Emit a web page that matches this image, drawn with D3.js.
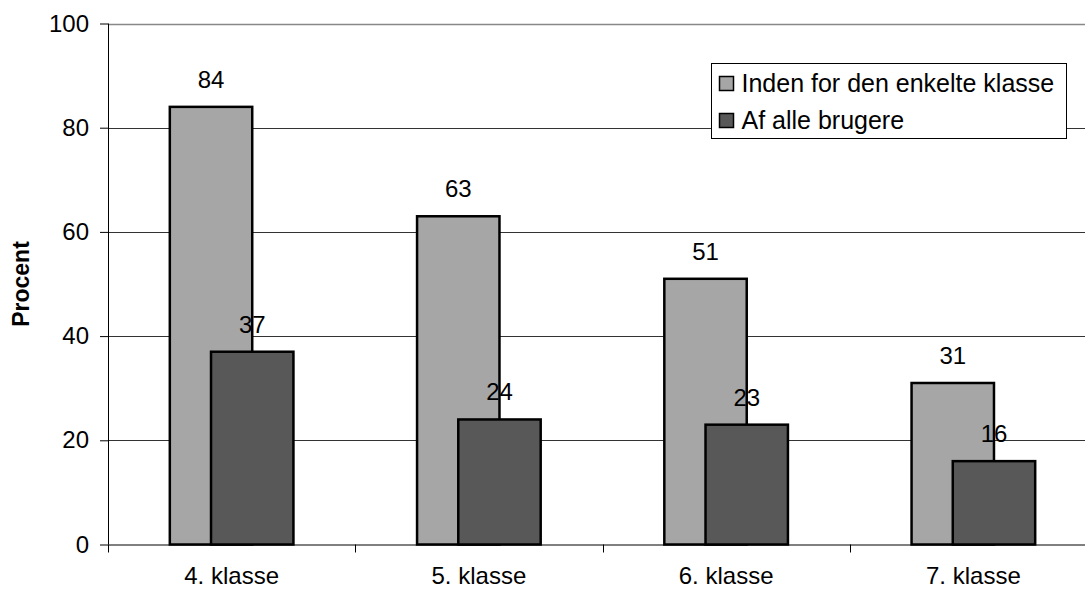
<!DOCTYPE html>
<html>
<head>
<meta charset="utf-8">
<script src="https://cdn.jsdelivr.net/npm/d3@7"></script>
<style>
  body { margin: 0; background: #fff; }
  svg { display: block; font-family: "Liberation Sans", Arial, sans-serif; }
</style>
</head>
<body>
<div id="chart"></div>
<script>
const categories = ["4. klasse", "5. klasse", "6. klasse", "7. klasse"];
const seriesNames = ["Inden for den enkelte klasse", "Af alle brugere"];
const withinClass = [84, 63, 51, 31];
const ofAllUsers = [37, 24, 23, 16];
const yTicks = [0, 20, 40, 60, 80, 100];

const width = 1085;
const height = 589;
const plotLeft = 108;
const plotRight = 1097;
const plotTop = 23.5;
const plotBottom = 544.5;
const fontSize = "24px";

const colors = ["#a6a6a6", "#585858"];

const svg = d3
  .select("#chart")
  .append("svg")
  .attr("width", width)
  .attr("height", height);

const x = d3.scaleBand().domain(categories).range([plotLeft, plotRight]);
const y = d3.scaleLinear().domain([0, 100]).range([plotBottom, plotTop]);

const barW = x.bandwidth() / 3;
const barX = (i, s) => x(categories[i]) + (x.bandwidth() - 1.5 * barW) / 2 + s * barW / 2;

// gridlines
svg
  .append("g")
  .selectAll("line")
  .data(yTicks.filter((d) => d > 0))
  .join("line")
  .attr("x1", plotLeft)
  .attr("x2", width)
  .attr("y1", (d) => Math.round(y(d)) + 0.5)
  .attr("y2", (d) => Math.round(y(d)) + 0.5)
  .attr("stroke", (d) => (d === 100 ? "#888" : "#333"))
  .attr("stroke-width", (d) => (d === 100 ? 1.5 : 1));

// bars
const groups = [withinClass, ofAllUsers];
groups.forEach((values, s) => {
  svg
    .append("g")
    .selectAll("rect")
    .data(values)
    .join("rect")
    .attr("x", (d, i) => barX(i, s))
    .attr("y", (d) => y(d))
    .attr("width", barW)
    .attr("height", (d) => y(0) - y(d))
    .attr("fill", colors[s])
    .attr("stroke", "#000")
    .attr("stroke-width", 2.5);
});

// value labels
groups.forEach((values, s) => {
  svg
    .append("g")
    .selectAll("text")
    .data(values)
    .join("text")
    .attr("x", (d, i) => barX(i, s) + barW / 2)
    .attr("y", (d) => y(d) - 19)
    .attr("text-anchor", "middle")
    .attr("font-size", fontSize)
    .attr("fill", "#000")
    .text((d) => d);
});

// y axis
const yAxis = svg
  .append("g")
  .attr("transform", `translate(${plotLeft},0)`)
  .call(d3.axisLeft(y).tickValues(yTicks).tickSize(8).tickPadding(11));
yAxis.select(".domain").attr("stroke", "#000").attr("d", `M0.5,${plotTop}V${plotBottom}`);
yAxis.selectAll(".tick line").attr("stroke", "#000");
yAxis
  .selectAll("text")
  .attr("font-size", fontSize)
  .attr("font-family", "Liberation Sans, Arial, sans-serif")
  .attr("fill", "#000");

// x axis
const xAxis = svg
  .append("g")
  .attr("transform", `translate(0,${plotBottom})`)
  .call(d3.axisBottom(x).tickSize(0));
xAxis.select(".domain").attr("stroke", "#000").attr("d", `M${plotLeft},0.5H${width}`);
xAxis
  .selectAll("text")
  .attr("y", 39)
  .attr("dy", 0)
  .attr("font-size", fontSize)
  .attr("font-family", "Liberation Sans, Arial, sans-serif")
  .attr("fill", "#000");
svg
  .append("g")
  .selectAll("line")
  .data(categories)
  .join("line")
  .attr("x1", (d) => Math.round(x(d)) + 0.5)
  .attr("x2", (d) => Math.round(x(d)) + 0.5)
  .attr("y1", plotBottom)
  .attr("y2", plotBottom + 8)
  .attr("stroke", "#000");

// y title
svg
  .append("text")
  .attr("transform", `translate(29,${(plotTop + plotBottom) / 2}) rotate(-90)`)
  .attr("text-anchor", "middle")
  .attr("font-size", "23px")
  .attr("font-weight", "bold")
  .text("Procent");

// legend
const legend = svg.append("g").attr("transform", "translate(711.5,63.5)");
legend
  .append("rect")
  .attr("width", 355)
  .attr("height", 75)
  .attr("fill", "#fff")
  .attr("stroke", "#000");
seriesNames.forEach((name, i) => {
  const row = legend.append("g").attr("transform", `translate(8,${20 + i * 37})`);
  row
    .append("rect")
    .attr("x", 0)
    .attr("y", -7)
    .attr("width", 14)
    .attr("height", 14)
    .attr("fill", colors[i])
    .attr("stroke", "#000")
    .attr("stroke-width", 1.5);
  row
    .append("text")
    .attr("x", 22)
    .attr("y", 8.5)
    .attr("font-size", "25px")
    .text(name);
});
</script>
</body>
</html>
